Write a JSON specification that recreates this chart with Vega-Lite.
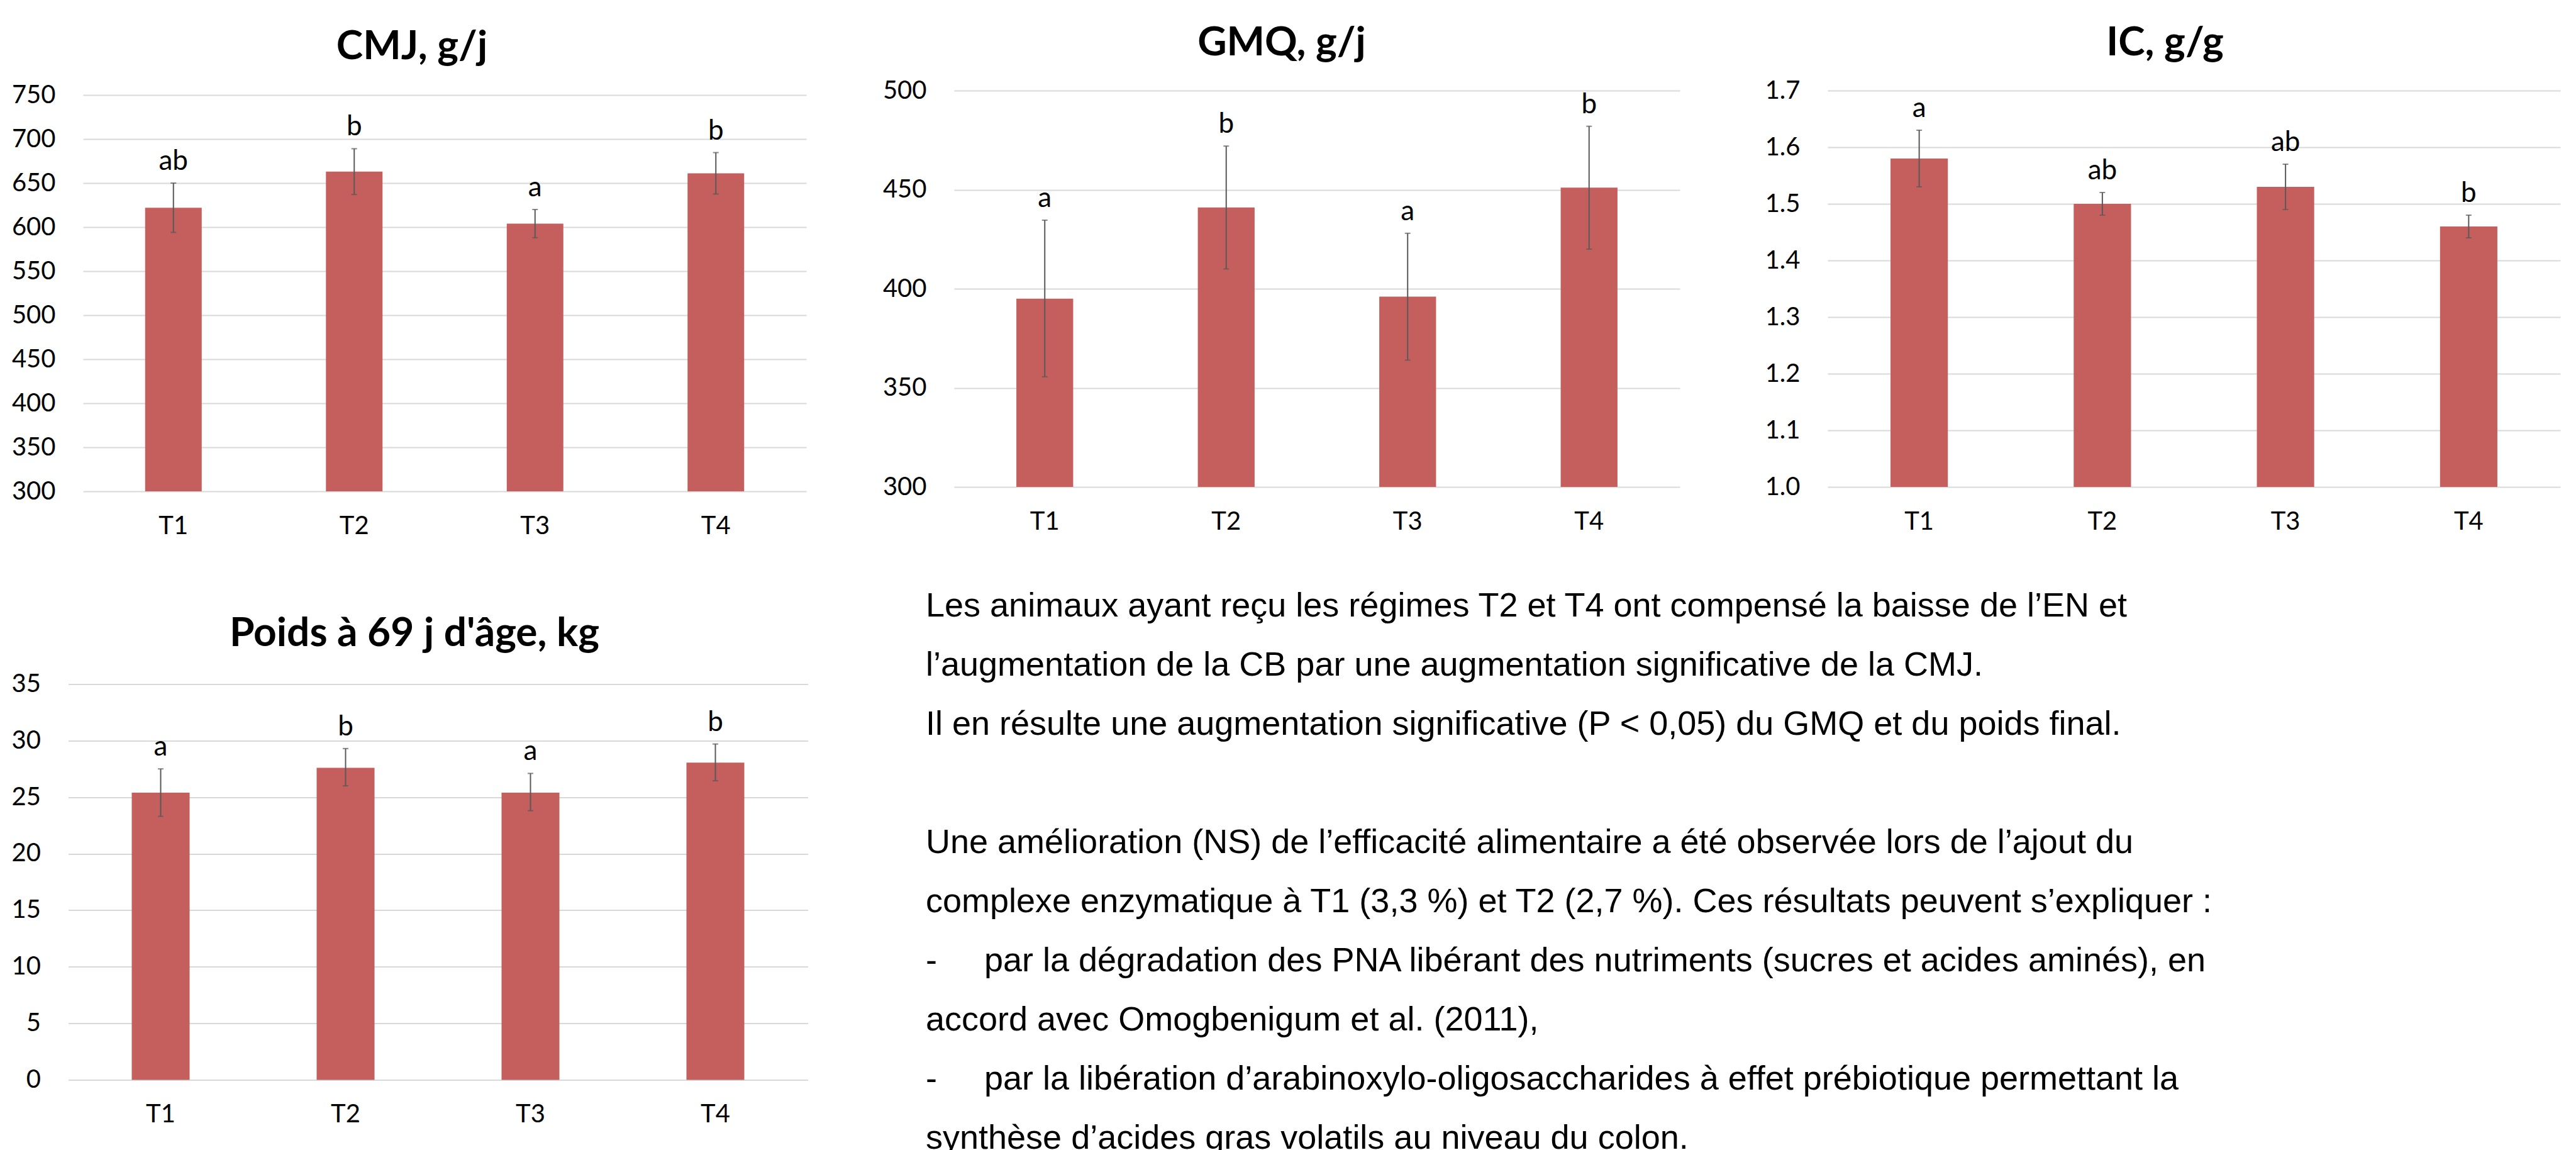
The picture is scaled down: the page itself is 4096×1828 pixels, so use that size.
{
  "$schema": "https://vega.github.io/schema/vega-lite/v6.json",
  "autosize": {"type": "pad"},
  "padding": {"left": 18, "top": 37, "right": 0, "bottom": 0},
  "background": "white",
  "config": {
    "view": {"stroke": null},
    "axis": {"domain": false, "ticks": false, "tickSize": 0, "labelFont": "Lato", "labelFontSize": 40, "labelColor": "#000000", "gridColor": "#D9D9D9", "gridWidth": 2},
    "axisX": {"grid": false, "labelPadding": 35, "labelAngle": 0},
    "axisY": {"grid": true, "labelPadding": 44},
    "title": {"font": "Lato", "fontSize": 64, "fontWeight": "bold", "color": "#000000", "baseline": "alphabetic", "anchor": "middle", "frame": "group"},
    "bar": {"color": "#C55F5D"},
    "text": {"font": "Lato", "fontSize": 44, "color": "#000000"}
  },
  "vconcat": [
    {
      "hconcat": [
        {
          "width": 1150, "height": 637,
          "title": {"text": "CMJ, g/j", "dx": -52, "offset": 24},
          "data": {"values": [
            {"t": "T1", "v": 622, "lo": 594, "hi": 650, "sig": "ab"},
            {"t": "T2", "v": 663, "lo": 637, "hi": 689, "sig": "b"},
            {"t": "T3", "v": 604, "lo": 588, "hi": 620, "sig": "a"},
            {"t": "T4", "v": 661, "lo": 637.6, "hi": 684.6, "sig": "b"}
          ]},
          "encoding": {"x": {"field": "t", "type": "nominal", "title": null, "scale": {"paddingInner": 0, "paddingOuter": 0}}},
          "layer": [
            {"mark": {"type": "bar", "width": {"band": 0.313}},
             "encoding": {"y": {"field": "v", "type": "quantitative", "title": null, "scale": {"domain": [300, 750], "nice": false, "zero": false, "range": [637, 7]}, "axis": {"values": [300, 350, 400, 450, 500, 550, 600, 650, 700, 750]}}, "y2": {"datum": 300}}},
            {"mark": {"type": "errorbar", "color": "#595959", "thickness": 2, "ticks": {"size": 9, "thickness": 2}},
             "encoding": {"y": {"field": "lo", "type": "quantitative", "title": null, "scale": {"domain": [300, 750], "nice": false, "zero": false, "range": [637, 7]}}, "y2": {"field": "hi"}}},
            {"mark": {"type": "text", "baseline": "alphabetic", "dy": -21},
             "encoding": {"y": {"field": "hi", "type": "quantitative", "title": null, "scale": {"domain": [300, 750], "nice": false, "zero": false, "range": [637, 7]}}, "text": {"field": "sig"}}}
          ]
        },
        {
          "width": 1154, "height": 630,
          "title": {"text": "GMQ, g/j", "dx": -56, "offset": 22.6},
          "data": {"values": [
            {"t": "T1", "v": 395, "lo": 355.6, "hi": 434.6, "sig": "a"},
            {"t": "T2", "v": 441, "lo": 410, "hi": 472, "sig": "b"},
            {"t": "T3", "v": 396, "lo": 364, "hi": 428, "sig": "a"},
            {"t": "T4", "v": 451, "lo": 420, "hi": 482, "sig": "b"}
          ]},
          "encoding": {"x": {"field": "t", "type": "nominal", "title": null, "scale": {"paddingInner": 0, "paddingOuter": 0}}},
          "layer": [
            {"mark": {"type": "bar", "width": {"band": 0.313}},
             "encoding": {"y": {"field": "v", "type": "quantitative", "title": null, "scale": {"domain": [300, 500], "nice": false, "zero": false}, "axis": {"values": [300, 350, 400, 450, 500]}}, "y2": {"datum": 300}}},
            {"mark": {"type": "errorbar", "color": "#595959", "thickness": 2, "ticks": {"size": 9, "thickness": 2}},
             "encoding": {"y": {"field": "lo", "type": "quantitative", "title": null, "scale": {"domain": [300, 500], "nice": false, "zero": false}}, "y2": {"field": "hi"}}},
            {"mark": {"type": "text", "baseline": "alphabetic", "dy": -21},
             "encoding": {"y": {"field": "hi", "type": "quantitative", "title": null, "scale": {"domain": [300, 500], "nice": false, "zero": false}}, "text": {"field": "sig"}}}
          ]
        },
        {
          "width": 1165, "height": 630,
          "title": {"text": "IC, g/g", "dx": -46, "offset": 22.6},
          "data": {"values": [
            {"t": "T1", "v": 1.58, "lo": 1.53, "hi": 1.63, "sig": "a"},
            {"t": "T2", "v": 1.50, "lo": 1.48, "hi": 1.52, "sig": "ab"},
            {"t": "T3", "v": 1.53, "lo": 1.49, "hi": 1.57, "sig": "ab"},
            {"t": "T4", "v": 1.46, "lo": 1.44, "hi": 1.48, "sig": "b"}
          ]},
          "encoding": {"x": {"field": "t", "type": "nominal", "title": null, "scale": {"paddingInner": 0, "paddingOuter": 0}}},
          "layer": [
            {"mark": {"type": "bar", "width": {"band": 0.313}},
             "encoding": {"y": {"field": "v", "type": "quantitative", "title": null, "scale": {"domain": [1.0, 1.7], "nice": false, "zero": false}, "axis": {"values": [1.0, 1.1, 1.2, 1.3, 1.4, 1.5, 1.6, 1.7], "format": ".1f"}}, "y2": {"datum": 1.0}}},
            {"mark": {"type": "errorbar", "color": "#595959", "thickness": 2, "ticks": {"size": 9, "thickness": 2}},
             "encoding": {"y": {"field": "lo", "type": "quantitative", "title": null, "scale": {"domain": [1.0, 1.7], "nice": false, "zero": false}}, "y2": {"field": "hi"}}},
            {"mark": {"type": "text", "baseline": "alphabetic", "dy": -21},
             "encoding": {"y": {"field": "hi", "type": "quantitative", "title": null, "scale": {"domain": [1.0, 1.7], "nice": false, "zero": false}}, "text": {"field": "sig"}}}
          ]
        }
      ],
      "spacing": 235,
      "bounds": "flush"
    },
    {
      "hconcat": [
        {
          "width": 1152, "height": 629,
          "title": {"text": "Poids à 69 j d'âge, kg", "dx": -49, "offset": 27},
          "data": {"values": [
            {"t": "T1", "v": 25.4, "lo": 23.3, "hi": 27.5, "sig": "a"},
            {"t": "T2", "v": 27.6, "lo": 26.0, "hi": 29.3, "sig": "b"},
            {"t": "T3", "v": 25.4, "lo": 23.8, "hi": 27.1, "sig": "a"},
            {"t": "T4", "v": 28.05, "lo": 26.45, "hi": 29.7, "sig": "b"}
          ]},
          "encoding": {"x": {"field": "t", "type": "nominal", "title": null, "scale": {"paddingInner": 0, "paddingOuter": 0, "range": [-23.5, 1152.5]}}},
          "layer": [
            {"mark": {"type": "bar", "width": {"band": 0.313}},
             "encoding": {"y": {"field": "v", "type": "quantitative", "title": null, "scale": {"domain": [0, 35], "nice": false}, "axis": {"values": [0, 5, 10, 15, 20, 25, 30, 35], "offset": 23.5}}, "y2": {"datum": 0}}},
            {"mark": {"type": "errorbar", "color": "#595959", "thickness": 2, "ticks": {"size": 9, "thickness": 2}},
             "encoding": {"y": {"field": "lo", "type": "quantitative", "title": null, "scale": {"domain": [0, 35], "nice": false}}, "y2": {"field": "hi"}}},
            {"mark": {"type": "text", "baseline": "alphabetic", "dy": -21},
             "encoding": {"y": {"field": "hi", "type": "quantitative", "title": null, "scale": {"domain": [0, 35], "nice": false}}, "text": {"field": "sig"}}}
          ]
        },
        {
          "width": 2600, "height": 629,
          "data": {"values": [
            {"line": 0, "txt": "Les animaux ayant reçu les régimes T2 et T4 ont compensé la baisse de l’EN et"},
            {"line": 1, "txt": "l’augmentation de la CB par une augmentation significative de la CMJ."},
            {"line": 2, "txt": "Il en résulte une augmentation significative (P < 0,05) du GMQ et du poids final."},
            {"line": 4, "txt": "Une amélioration (NS) de l’efficacité alimentaire a été observée lors de l’ajout du"},
            {"line": 5, "txt": "complexe enzymatique à T1 (3,3 %) et T2 (2,7 %). Ces résultats peuvent s’expliquer :"},
            {"line": 6, "txt": "-\u00a0\u00a0\u00a0\u00a0\u00a0par la dégradation des PNA libérant des nutriments (sucres et acides aminés), en"},
            {"line": 7, "txt": "\u00a0\u00a0\u00a0\u00a0\u00a0\u00a0accord avec Omogbenigum et al. (2011),"},
            {"line": 8, "txt": "-\u00a0\u00a0\u00a0\u00a0\u00a0par la libération d’arabinoxylo-oligosaccharides à effet prébiotique permettant la"},
            {"line": 9, "txt": "\u00a0\u00a0\u00a0\u00a0\u00a0\u00a0synthèse d’acides gras volatils au niveau du colon."}
          ]},
          "mark": {"type": "text", "align": "left", "baseline": "middle", "font": "Liberation Sans", "fontSize": 54, "color": "#000000"},
          "encoding": {
            "x": {"value": 0},
            "y": {"field": "line", "type": "quantitative", "scale": {"domain": [0, 9], "range": [-123.7, 722.3]}, "axis": null},
            "text": {"field": "txt"}
          }
        }
      ],
      "spacing": 188,
      "bounds": "flush"
    }
  ],
  "spacing": 943.4,
  "bounds": "flush"
}
